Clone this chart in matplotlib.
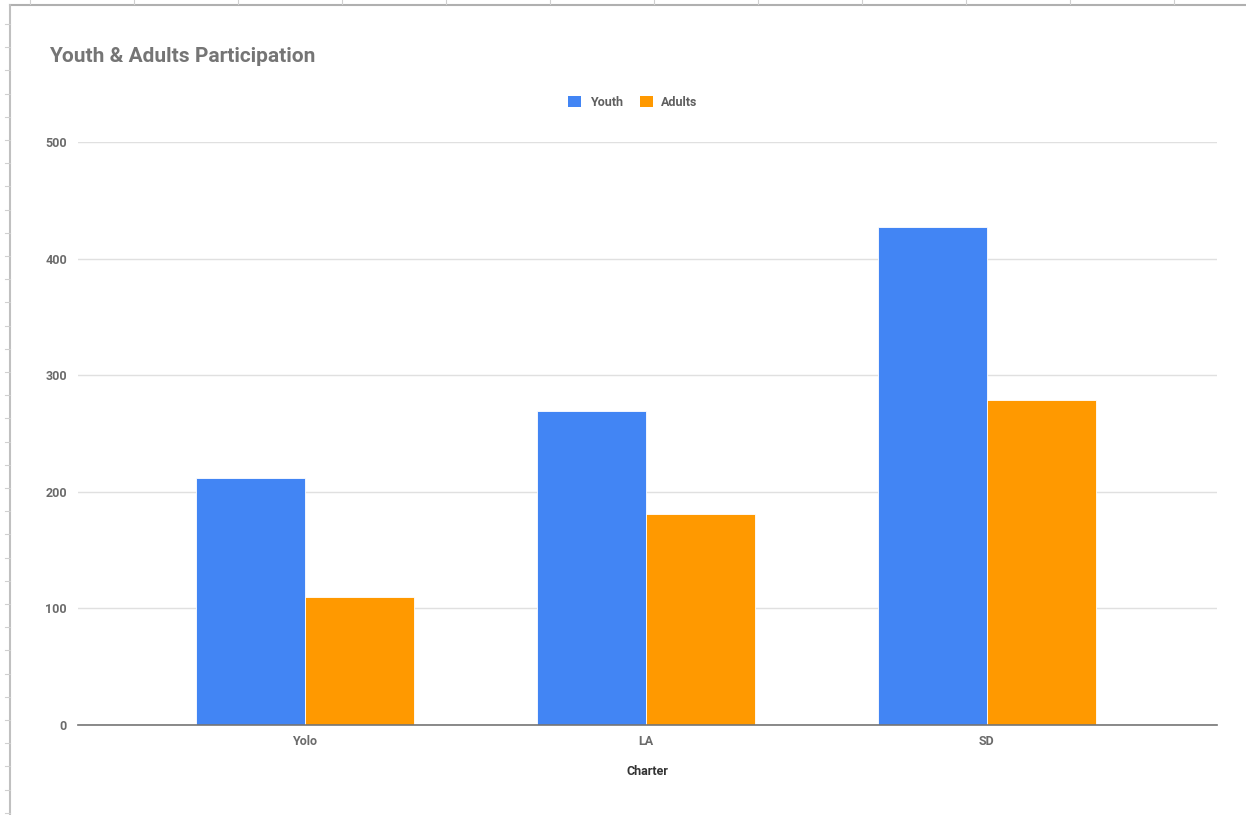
import matplotlib
matplotlib.use("Agg")
import matplotlib.pyplot as plt
from matplotlib.lines import Line2D
from matplotlib.patches import Patch
import numpy as np

categories = ["Yolo", "LA", "SD"]
youth = [212, 269, 427]
adults = [110, 181, 279]
series_names = ["Youth", "Adults"]
yticks = [0, 100, 200, 300, 400, 500]

plt.rcParams['font.family'] = ['Roboto', 'DejaVu Sans']

W, H = 1246, 815
fig = plt.figure(figsize=(W / 100, H / 100), dpi=100)
fig.patch.set_facecolor('white')

# spreadsheet frame decorations
def fx(px):
    return px / W
def fy(py):
    return 1 - py / H

fig.add_artist(Line2D([fx(10), fx(1246)], [fy(4.5), fy(4.5)], color='#b0b0b0', lw=1.5))
fig.add_artist(Line2D([fx(10), fx(10)], [fy(4.5), fy(815)], color='#c0c0c0', lw=1.5))
for px in range(30, 1246, 104):
    fig.add_artist(Line2D([fx(px), fx(px)], [fy(0), fy(4)], color='#d0d0d0', lw=0.8))
for py in np.arange(24, 815, 23.2):
    fig.add_artist(Line2D([fx(5), fx(10)], [fy(py), fy(py)], color='#d0d0d0', lw=0.8))

ax = fig.add_axes([78 / W, (H - 725) / H, (1217 - 78) / W, (725 - 142) / H])

x = np.arange(len(categories))
bw = 0.32
ax.bar(x - bw / 2, youth, width=bw, color='#4285F4', edgecolor='white', linewidth=0.6, zorder=3)
ax.bar(x + bw / 2, adults, width=bw, color='#FF9900', edgecolor='white', linewidth=0.6, zorder=3)

ax.set_xlim(-0.665, 2.675)
ax.set_ylim(0, 500)
ax.set_yticks(yticks)
ax.set_yticklabels([str(v) for v in yticks])
ax.set_xticks(x)
ax.set_xticklabels(categories)
ax.yaxis.grid(True, color='#e0e0e0', lw=1, zorder=0)
ax.set_axisbelow(True)
for s in ['top', 'right', 'left']:
    ax.spines[s].set_visible(False)
ax.spines['bottom'].set_color('#757575')
ax.spines['bottom'].set_linewidth(1.2)
ax.spines['bottom'].set_zorder(4)
ax.tick_params(axis='both', length=0, labelsize=9, labelcolor='#6b6b6b')
ax.tick_params(axis='y', pad=8)
ax.tick_params(axis='x', pad=7.5)
for lbl in ax.get_xticklabels() + ax.get_yticklabels():
    lbl.set_fontweight('bold')

ax.set_xlabel("Charter", fontsize=9, color='#333333', fontweight='bold', labelpad=12)

fig.text(49 / W, fy(57), "Youth & Adults Participation", fontsize=15, fontweight='bold',
         color='#757575', ha='left', va='center')

handles = [Patch(facecolor='#4285F4', edgecolor='none'), Patch(facecolor='#FF9900', edgecolor='none')]
leg = fig.legend(handles, series_names, loc='center', bbox_to_anchor=(fx(633), fy(102)), ncol=2,
                 frameon=False, fontsize=9, handlelength=1.0, handleheight=1.0,
                 handletextpad=0.7, columnspacing=1.4)
for t in leg.get_texts():
    t.set_color('#5f5f5f')
    t.set_fontweight('bold')

fig.savefig("out.png", dpi=100, facecolor='white')
